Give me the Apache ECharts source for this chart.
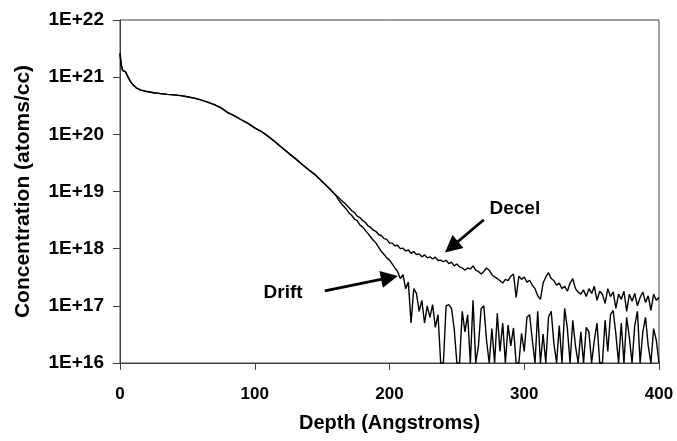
<!DOCTYPE html>
<html>
<head>
<meta charset="utf-8">
<script src="https://cdn.jsdelivr.net/npm/echarts@6/dist/echarts.min.js"></script>
<style>
html,body{margin:0;padding:0;background:#fff;}
#chart{width:677px;height:441px;}
</style>
</head>
<body>
<div id="chart"></div>
<script>
// Depth (Angstroms)
var depth = [0,1,2,4,6,8,10,12,15,20,25,30,35,40,45,50,55,60,65,70,75,80,85,90,95,100,105,110,115,120,125,130,135,140,145,150,155,160,
162,164,166,168,170,172,174,176,178,180,182,184,186,188,190,192,194,196,198,200,
202,204,206,208,210,212,214,216,218,220,222,224,226,228,230,232,234,236,238,240,
242,244,246,248,250,252,254,256,258,260,262,264,266,268,270,272,274,276,278,280,
282,284,286,288,290,292,294,296,298,300,302,304,306,308,310,312,314,316,318,320,
322,324,326,328,330,332,334,336,338,340,342,344,346,348,350,352,354,356,358,360,
362,364,366,368,370,372,374,376,378,380,382,384,386,388,390,392,394,396,398,400];

// Concentration (atoms/cc) - Decel implant
var decel = [2.6e21,1.6e21,1.3e21,1.25e21,1.0e21,8.2e20,7.2e20,6.5e20,6.0e20,5.6e20,5.35e20,5.15e20,5.0e20,4.9e20,4.75e20,4.55e20,4.3e20,4.0e20,3.65e20,3.3e20,2.9e20,2.4e20,2.1e20,1.8e20,1.55e20,1.3e20,1.12e20,9.2e19,7.4e19,5.9e19,4.7e19,3.8e19,3.0e19,2.4e19,1.95e19,1.5e19,1.15e19,8.7e18,
7.9e18,7.1e18,6.5e18,5.8e18,5.2e18,4.6e18,4.3e18,3.7e18,3.5e18,3.1e18,2.9e18,2.5e18,2.35e18,2.1e18,2.0e18,1.75e18,1.7e18,1.5e18,1.45e18,1.25e18,
1.25e18,1.12e18,1.15e18,1.0e18,1.02e18,9.1e17,9.5e17,8.3e17,8.9e17,7.9e17,8.1e17,7.2e17,7.8e17,6.9e17,7.2e17,6.6e17,7.1e17,6.2e17,6.3e17,5.9e17,
6.3e17,5.5e17,5.8e17,5.0e17,5.4e17,4.8e17,4.6e17,4.2e17,4.6e17,4.4e17,5.0e17,4.2e17,4.0e17,3.6e17,4.0e17,4.6e17,4.2e17,3.5e17,3.2e17,3.0e17,
2.75e17,2.5e17,2.9e17,2.75e17,3.3e17,3.6e17,1.4e17,3.3e17,2.9e17,3.2e17,2.6e17,2.8e17,2.3e17,2.0e17,1.5e17,1.3e17,2.5e17,3.2e17,3.8e17,3.0e17,
2.75e17,2.3e17,2.5e17,2.0e17,2.2e17,1.8e17,2.5e17,3.0e17,2.0e17,1.75e17,1.6e17,1.9e17,1.45e17,2.0e17,1.65e17,2.2e17,1.25e17,1.8e17,1.6e17,1.1e17,
2.0e17,1.45e17,1.75e17,9e16,1.6e17,1.3e17,1.8e17,8e16,1.6e17,1.2e17,1.65e17,1.0e17,1.4e17,1.75e17,1.15e17,1.5e17,8.3e16,1.6e17,1.25e17,1.4e17];

// Concentration (atoms/cc) - Drift implant
var drift = [2.6e21,1.6e21,1.3e21,1.25e21,1.0e21,8.2e20,7.2e20,6.5e20,6.0e20,5.6e20,5.35e20,5.15e20,5.0e20,4.9e20,4.75e20,4.55e20,4.3e20,4.0e20,3.65e20,3.3e20,2.9e20,2.4e20,2.1e20,1.8e20,1.55e20,1.3e20,1.12e20,9.2e19,7.4e19,5.9e19,4.7e19,3.8e19,3.0e19,2.4e19,1.95e19,1.5e19,1.15e19,8.7e18,
7.2e18,6.3e18,5.5e18,4.9e18,4.2e18,3.8e18,3.3e18,3.1e18,2.6e18,2.4e18,2.1e18,1.85e18,1.6e18,1.4e18,1.25e18,1.05e18,8.9e17,7.9e17,6.9e17,6.3e17,
5.4e17,4.6e17,4.0e17,3.0e17,3.5e17,2.0e17,2.6e17,5e16,2.0e17,1.65e17,8e16,1.25e17,5e16,1.0e17,6.3e16,1.05e17,4.2e16,7e16,1e16,1e16,
1.0e17,1.05e17,9e16,4e16,1e16,1e16,8e16,3.5e16,7e16,1e16,1.25e17,1e16,2e16,9e16,1.0e17,2.5e16,1e16,4e16,1e16,7.4e16,
1.6e16,5e16,1e16,4.6e16,2e16,4.1e16,1e16,1e16,3.3e16,1.6e16,6.3e16,7e16,2.5e16,1e16,8e16,1e16,3.2e16,1e16,6.3e16,8e16,
2.2e16,1e16,4.5e16,1e16,9e16,4e16,1e16,5.6e16,2e16,1e16,3.5e16,1e16,4.2e16,3.5e16,1e16,2.5e16,5e16,1e16,1e16,5.6e16,
1.6e16,7e16,8.3e16,3.2e16,1e16,5e16,1e16,6.3e16,2.8e16,1e16,4.5e16,8e16,1e16,3.5e16,6.3e16,2e16,1e16,4e16,2.5e16,1e16];

var seriesNames = ['Decel','Drift'];
var xTicks = [0,100,200,300,400];
var yRange = [1e16, 1e22];

function pairs(xs, ys){ var out=[]; for(var i=0;i<xs.length;i++){ out.push([xs[i], ys[i]]); } return out; }

var chart = echarts.init(document.getElementById('chart'), null, {renderer:'canvas'});
var FONT = '"Liberation Sans", Arial, sans-serif';
var AX = '#404040';

chart.setOption({
  animation: false,
  backgroundColor: '#fff',
  grid: {left:120, top:20, right:18, bottom:78, show:true, borderColor:AX, borderWidth:1, containLabel:false},
  xAxis: {
    type:'value', min:xTicks[0], max:xTicks[xTicks.length-1], interval:100,
    axisLine:{show:true, onZero:false, lineStyle:{color:AX, width:1}},
    axisTick:{show:true, inside:false, length:7, lineStyle:{color:AX}},
    splitLine:{show:false},
    axisLabel:{color:'#000', fontFamily:FONT, fontWeight:'bold', fontSize:17, margin:23},
    name:'Depth (Angstroms)', nameLocation:'middle', nameGap:50,
    nameTextStyle:{color:'#000', fontFamily:FONT, fontWeight:'bold', fontSize:20}
  },
  yAxis: {
    type:'log', logBase:10, min:yRange[0], max:yRange[1], splitNumber:6,
    axisLine:{show:true, lineStyle:{color:AX, width:1}},
    axisTick:{show:true, inside:false, length:7, lineStyle:{color:AX}},
    splitLine:{show:false},
    axisLabel:{color:'#000', fontFamily:FONT, fontWeight:'bold', fontSize:19, margin:16,
      formatter:function(v){ return '1E+' + Math.round(Math.log10(v)); }},
    name:'Concentration (atoms/cc)', nameLocation:'middle', nameGap:86,
    nameTextStyle:{color:'#000', fontFamily:FONT, fontWeight:'bold', fontSize:21}
  },
  series: [
    {
      name: seriesNames[1], type:'line', data: pairs(depth, drift), showSymbol:false, clip:true,
      lineStyle:{color:'#000', width:1.4}, silent:true
    },
    {
      name: seriesNames[0], type:'line', data: pairs(depth, decel), showSymbol:false, clip:true,
      lineStyle:{color:'#000', width:1.4}, silent:true,
      markLine: {
        silent:true, symbol:['none','triangle'], symbolSize:17, precision:2,
        lineStyle:{color:'#000', width:2.8, type:'solid'},
        itemStyle:{color:'#000'},
        label:{show:false},
        emphasis:{disabled:true},
        data:[
          [{coord:[270, 3.2e18], symbol:'none'}, {coord:[246, 1.07e18], symbol:'triangle', symbolSize:17}],
          [{coord:[152, 1.82e17], symbol:'none'}, {coord:[200, 3.1e17], symbol:'triangle', symbolSize:17}]
        ]
      },
      markPoint: {
        silent:true, symbol:'circle', symbolSize:0,
        label:{show:true, color:'#000', fontFamily:FONT, fontWeight:'bold', fontSize:19, position:'inside'},
        data:[
          {coord:[293, 4.9e18], value:'Decel', label:{formatter:'Decel'}},
          {coord:[121, 1.66e17], value:'Drift', label:{formatter:'Drift'}}
        ]
      }
    }
  ]
});
</script>
</body>
</html>
